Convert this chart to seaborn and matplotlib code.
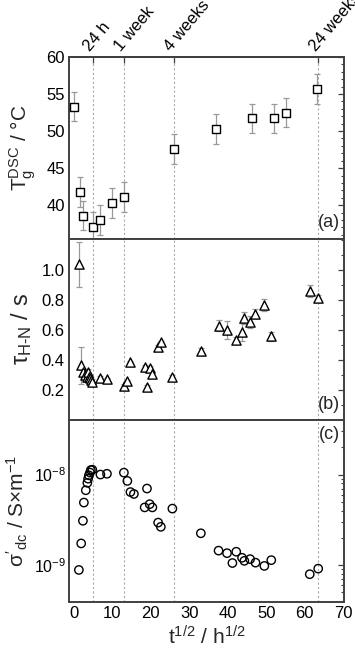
import numpy as np
import pandas as pd
import matplotlib
matplotlib.use("Agg")
import matplotlib.pyplot as plt
from matplotlib.ticker import MultipleLocator, FixedLocator
import seaborn as sns

# ---------------- data ----------------
# panel (a): Tg DSC
xa = [0.0, 1.7, 2.4, 4.9, 6.9, 10.0, 13.0, 26.0, 37.0, 46.4, 52.0, 55.2, 63.3]
ya = [53.3, 41.8, 38.6, 37.1, 38.0, 40.3, 41.1, 47.6, 50.3, 51.7, 51.7, 52.5, 55.7]
ea = [2.0, 2.0, 2.0, 2.0, 2.0, 2.0, 2.0, 2.0, 2.0, 2.0, 2.0, 2.0, 2.0]

# panel (b): tau H-N
xb = [1.4, 1.9, 2.35, 2.9, 3.3, 3.7, 3.9, 4.2, 4.4, 4.8, 6.9, 8.6, 13.0, 13.9, 14.7,
      18.4, 19.0, 19.7, 20.4, 21.9, 22.7, 25.6, 33.0, 37.6, 39.8, 42.2, 43.7, 44.3,
      45.8, 47.2, 49.5, 51.3, 61.3, 63.5]
yb = [1.04, 0.365, 0.32, 0.30, 0.29, 0.32, 0.29, 0.28, 0.27, 0.255, 0.285, 0.275,
      0.23, 0.26, 0.385, 0.355, 0.225, 0.35, 0.31, 0.49, 0.52, 0.29, 0.46, 0.63,
      0.60, 0.535, 0.585, 0.684, 0.656, 0.71, 0.77, 0.56, 0.86, 0.817]
eb = [0.15, 0.12, 0.02, 0.02, 0.02, 0.02, 0.02, 0.02, 0.02, 0.02, 0.01, 0.01,
      0.01, 0.01, 0.01, 0.01, 0.01, 0.01, 0.01, 0.01, 0.01, 0.01, 0.02, 0.035,
      0.06, 0.02, 0.06, 0.04, 0.04, 0.03, 0.04, 0.03, 0.04, 0.02]

# panel (c): sigma dc
xc = [1.3, 1.9, 2.35, 2.6, 3.1, 3.5, 3.7, 3.9, 4.2, 4.4, 4.8, 6.9, 8.6, 13.0, 13.9,
      14.7, 15.6, 18.4, 19.0, 19.7, 20.4, 21.9, 22.6, 25.6, 33.0, 37.6, 39.8, 41.2,
      42.2, 43.7, 44.3, 45.8, 47.2, 49.5, 51.3, 61.3, 63.5]
yc = [8.8e-10, 1.73e-9, 3.08e-9, 4.9e-9, 6.7e-9, 8.1e-9, 9.0e-9, 9.8e-9, 1.05e-8,
      1.12e-8, 1.13e-8, 1.0e-8, 1.02e-8, 1.05e-8, 8.5e-9, 6.4e-9, 6.1e-9, 4.33e-9,
      7.0e-9, 4.7e-9, 4.33e-9, 2.94e-9, 2.64e-9, 4.2e-9, 2.24e-9, 1.44e-9, 1.35e-9,
      1.05e-9, 1.4e-9, 1.2e-9, 1.11e-9, 1.16e-9, 1.06e-9, 0.975e-9, 1.13e-9,
      7.9e-10, 9.1e-10]

# time markers (sqrt of hours)
mark_labels = ["24 h", "1 week", "4 weeks", "24 weeks"]
mark_hours = [24, 168, 672, 4032]

# ---------------- style ----------------
sns.set_theme(style="white")
plt.rcParams["font.family"] = ["Liberation Sans", "DejaVu Sans"]
plt.rcParams["mathtext.fontset"] = "custom"
plt.rcParams["mathtext.rm"] = "Liberation Sans"
plt.rcParams["mathtext.it"] = "Liberation Sans"
plt.rcParams["mathtext.bf"] = "Liberation Sans"
plt.rcParams["mathtext.sf"] = "Liberation Sans"

fig = plt.figure(figsize=(3.55, 6.54), dpi=100)
gs = fig.add_gridspec(3, 1, left=0.194, right=0.969, top=0.913, bottom=0.0795, hspace=0)
axes = [fig.add_subplot(gs[i]) for i in range(3)]

mark_x = [np.sqrt(h) for h in mark_hours]
spine_col = "#404040"
TICK_FS = 12

dfa = pd.DataFrame({"x": xa, "y": ya})
dfb = pd.DataFrame({"x": xb, "y": yb})
dfc = pd.DataFrame({"x": xc, "y": yc})

for ax in axes:
    for mx in mark_x:
        ax.axvline(mx, color="#aaaaaa", ls=(0, (2, 2)), lw=0.8, zorder=0)

ax = axes[0]
ax.errorbar(xa, ya, yerr=ea, fmt="none", ecolor="#999999", elinewidth=0.9, capsize=2.5, capthick=0.9, zorder=1)
sns.scatterplot(data=dfa, x="x", y="y", ax=ax, marker="s", s=34, facecolor="white",
                edgecolor="black", linewidth=1.0, zorder=3, legend=False)
ax.set_ylim(35.5, 60)
ax.yaxis.set_major_locator(MultipleLocator(5))
ax.yaxis.set_minor_locator(MultipleLocator(1))
ax.set_ylabel(r"T$_\mathregular{g}^\mathregular{DSC}$ / °C", fontsize=15)
ax.yaxis.set_label_coords(-0.112, 0.5)
ax.text(0.985, 0.04, "(a)", transform=ax.transAxes, ha="right", va="bottom", fontsize=13)

ax = axes[1]
ax.errorbar(xb, yb, yerr=eb, fmt="none", ecolor="#999999", elinewidth=0.9, capsize=2.5, capthick=0.9, zorder=1)
sns.scatterplot(data=dfb, x="x", y="y", ax=ax, marker="^", s=44, facecolor="white",
                edgecolor="black", linewidth=1.0, zorder=3, legend=False)
ax.set_ylim(0.0, 1.21)
ax.yaxis.set_major_locator(FixedLocator([0.2, 0.4, 0.6, 0.8, 1.0]))
ax.yaxis.set_minor_locator(MultipleLocator(0.1))
ax.set_ylabel(r"$\tau_\mathregular{H\text{-}N}$ / s", fontsize=17)
ax.yaxis.set_label_coords(-0.125, 0.5)
ax.text(0.985, 0.04, "(b)", transform=ax.transAxes, ha="right", va="bottom", fontsize=13)

ax = axes[2]
sns.scatterplot(data=dfc, x="x", y="y", ax=ax, marker="o", s=36, facecolor="none",
                edgecolor="black", linewidth=1.0, zorder=3, legend=False)
ax.set_yscale("log")
ax.set_ylim(10 ** -9.41, 10 ** -7.4)
ax.set_ylabel(r"$\sigma'_\mathregular{dc}$ / S×m$^\mathregular{-1}$", fontsize=15)
ax.yaxis.set_label_coords(-0.14, 0.5)
ax.text(0.985, 0.97, "(c)", transform=ax.transAxes, ha="right", va="top", fontsize=13)
ax.set_xlabel(r"t$^\mathregular{1/2}$ / h$^\mathregular{1/2}$", fontsize=15, labelpad=3)

for i, ax in enumerate(axes):
    ax.set_xlim(-1.3, 70.2)
    ax.xaxis.set_major_locator(MultipleLocator(10))
    ax.xaxis.set_minor_locator(MultipleLocator(5))
    ax.tick_params(axis="both", which="both", direction="in", colors=spine_col,
                   labelcolor="black", labelsize=TICK_FS, right=True, top=False, pad=3)
    ax.tick_params(axis="both", which="major", length=4, width=0.9)
    ax.tick_params(axis="both", which="minor", length=2.5, width=0.8)
    for sp in ax.spines.values():
        sp.set_color(spine_col)
        sp.set_linewidth(1.4)
    if i < 2:
        ax.set_xlabel("")
        ax.tick_params(axis="x", labelbottom=False)

axes[2].tick_params(axis="y", which="major", labelsize=11.5, pad=2)

# top axis with time marks
top = axes[0].secondary_xaxis("top")
top.set_xticks(mark_x)
top.set_xticklabels(mark_labels, rotation=50, ha="left", va="bottom", rotation_mode="anchor", fontsize=12)
top.tick_params(direction="in", length=4, width=0.9, colors=spine_col, labelcolor="black", pad=2)
top.spines["top"].set_color(spine_col)
top.spines["top"].set_linewidth(1.4)

fig.savefig("out.png", dpi=100)
